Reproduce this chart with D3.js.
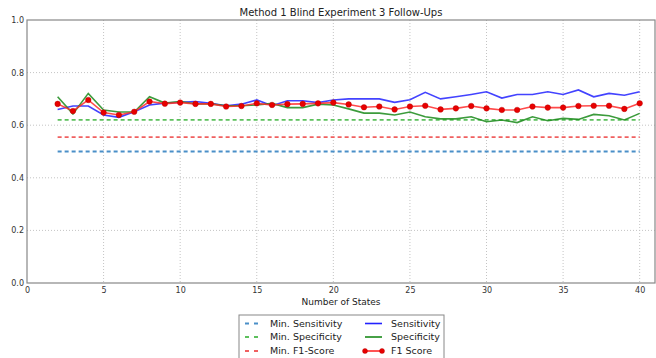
<!DOCTYPE html>
<html>
<head>
<meta charset="utf-8">
<script src="https://cdn.jsdelivr.net/npm/d3@7"></script>
<style>
  body { margin: 0; background: #fff; }
  svg { display: block; font-family: "DejaVu Sans", sans-serif; }
</style>
</head>
<body>
<svg id="chart" width="656" height="358"></svg>
<script>
const states = [2, 3, 4, 5, 6, 7, 8, 9, 10, 11, 12, 13, 14, 15, 16, 17, 18, 19, 20, 21,
  22, 23, 24, 25, 26, 27, 28, 29, 30, 31, 32, 33, 34, 35, 36, 37, 38, 39, 40]

const sensitivity = [0.660, 0.673, 0.673, 0.639, 0.630, 0.651, 0.677, 0.684, 0.687, 0.690,
  0.683, 0.674, 0.680, 0.696, 0.674, 0.693, 0.693, 0.686, 0.696, 0.700,
  0.700, 0.700, 0.687, 0.697, 0.725, 0.700, 0.708, 0.717, 0.727, 0.703,
  0.717, 0.717, 0.727, 0.717, 0.734, 0.708, 0.721, 0.714, 0.727]

const specificity = [0.708, 0.643, 0.721, 0.658, 0.650, 0.650, 0.708, 0.684, 0.690, 0.681,
  0.681, 0.674, 0.674, 0.677, 0.683, 0.667, 0.667, 0.680, 0.677, 0.662,
  0.646, 0.646, 0.639, 0.650, 0.632, 0.624, 0.624, 0.632, 0.613, 0.620,
  0.610, 0.632, 0.617, 0.626, 0.622, 0.641, 0.636, 0.620, 0.645]

const f1Score = [0.681, 0.654, 0.696, 0.648, 0.639, 0.651, 0.690, 0.682, 0.686, 0.681,
  0.681, 0.671, 0.673, 0.683, 0.677, 0.680, 0.681, 0.683, 0.686, 0.679,
  0.668, 0.671, 0.660, 0.671, 0.674, 0.660, 0.664, 0.673, 0.664, 0.658,
  0.658, 0.671, 0.667, 0.667, 0.673, 0.674, 0.674, 0.662, 0.683]

const minSensitivity = 0.5
const minSpecificity = 0.62
const minF1 = 0.555

const xTicks = [0, 5, 10, 15, 20, 25, 30, 35, 40]
const yTicks = [0.0, 0.2, 0.4, 0.6, 0.8, 1.0]

const width = 656
const height = 358
const margin = { top: 20, right: 1, bottom: 75, left: 27 }
const innerW = width - margin.left - margin.right
const innerH = height - margin.top - margin.bottom

const svg = d3.select('#chart')
const root = svg.append('g').attr('transform', `translate(${margin.left},${margin.top})`)

const x = d3.scaleLinear().domain([0, 41]).range([0, innerW])
const y = d3.scaleLinear().domain([0, 1]).range([innerH, 0])

// dotted grid
root.append('g')
  .selectAll('line')
  .data(xTicks.filter(t => t > 0))
  .join('line')
  .attr('x1', d => x(d)).attr('x2', d => x(d))
  .attr('y1', 0).attr('y2', innerH)
  .attr('stroke', '#c4c4c4').attr('stroke-width', 1).attr('stroke-dasharray', '1,2')

root.append('g')
  .selectAll('line')
  .data(yTicks.filter(t => t > 0 && t < 1))
  .join('line')
  .attr('x1', 0).attr('x2', innerW)
  .attr('y1', d => y(d)).attr('y2', d => y(d))
  .attr('stroke', '#c4c4c4').attr('stroke-width', 1).attr('stroke-dasharray', '1,2')

// tick labels only
root.append('g')
  .attr('transform', `translate(0,${innerH})`)
  .call(d3.axisBottom(x).tickValues(xTicks).tickFormat(d3.format('d')).tickSize(0).tickPadding(4))
root.append('g')
  .call(d3.axisLeft(y).tickValues(yTicks).tickFormat(d3.format('.1f')).tickSize(0).tickPadding(3))

root.selectAll('.domain').remove()
root.selectAll('.tick line').remove()
root.selectAll('.tick text').attr('fill', '#333').attr('font-size', '8px').attr('font-family', 'DejaVu Sans')

// frame
root.append('rect')
  .attr('x', 0).attr('y', 0).attr('width', innerW).attr('height', innerH)
  .attr('fill', 'none').attr('stroke', '#888').attr('stroke-width', 1.2)

// title and axis label
root.append('text')
  .attr('x', innerW / 2).attr('y', -4)
  .attr('text-anchor', 'middle').attr('font-size', '10px').attr('fill', '#222')
  .text('Method 1 Blind Experiment 3 Follow-Ups')

root.append('text')
  .attr('x', innerW / 2).attr('y', innerH + 22)
  .attr('text-anchor', 'middle').attr('font-size', '9px').attr('fill', '#222')
  .text('Number of States')

// threshold lines
const thresholds = [
  { value: minSensitivity, color: '#4a8fc8' },
  { value: minSpecificity, color: '#5cc05c' },
  { value: minF1, color: '#f06060' }
]
thresholds.forEach(t => {
  root.append('line')
    .attr('x1', x(states[0])).attr('x2', x(states[states.length - 1]))
    .attr('y1', y(t.value)).attr('y2', y(t.value))
    .attr('stroke', t.color).attr('stroke-width', 1.8).attr('stroke-dasharray', '4,3')
})

const line = d3.line().x(d => x(d[0])).y(d => y(d[1]))

const series = [
  { values: sensitivity, color: '#2222ff' },
  { values: specificity, color: '#1a8a1a' },
  { values: f1Score, color: '#ff2a2a' }
]
series.forEach(s => {
  root.append('path')
    .datum(states.map((st, i) => [st, s.values[i]]))
    .attr('fill', 'none')
    .attr('stroke', s.color)
    .attr('stroke-width', 1.6)
    .attr('opacity', 0.85)
    .attr('d', line)
})

root.append('g')
  .selectAll('circle')
  .data(states.map((st, i) => [st, f1Score[i]]))
  .join('circle')
  .attr('cx', d => x(d[0])).attr('cy', d => y(d[1]))
  .attr('r', 2.8)
  .attr('fill', '#e80000').attr('stroke', '#b00000').attr('stroke-width', 0.4)

// legend
const legend = svg.append('g').attr('transform', 'translate(239,315)')
legend.append('rect')
  .attr('x', 0).attr('y', 0).attr('width', 205).attr('height', 60)
  .attr('fill', '#fff').attr('stroke', '#888').attr('stroke-width', 1)

const legendLeft = [
  { label: 'Min. Sensitivity', color: '#4a8fc8' },
  { label: 'Min. Specificity', color: '#5cc05c' },
  { label: 'Min. F1-Score', color: '#f06060' }
]
const legendRight = [
  { label: 'Sensitivity', color: '#2222ff', marker: false },
  { label: 'Specificity', color: '#1a8a1a', marker: false },
  { label: 'F1 Score', color: '#ff2a2a', marker: true }
]
const rowY = [8.5, 22, 36]

legendLeft.forEach((d, i) => {
  legend.append('line')
    .attr('x1', 6).attr('x2', 19).attr('y1', rowY[i]).attr('y2', rowY[i])
    .attr('stroke', d.color).attr('stroke-width', 1.8).attr('stroke-dasharray', '4,5')
  legend.append('text')
    .attr('x', 31).attr('y', rowY[i]).attr('dy', '0.35em')
    .attr('font-size', '9.5px').attr('fill', '#222')
    .text(d.label)
})
legendRight.forEach((d, i) => {
  legend.append('line')
    .attr('x1', 126).attr('x2', 143).attr('y1', rowY[i]).attr('y2', rowY[i])
    .attr('stroke', d.color).attr('stroke-width', 1.6)
  if (d.marker) {
    [126, 143].forEach(cx => {
      legend.append('circle').attr('cx', cx).attr('cy', rowY[i]).attr('r', 2.5)
        .attr('fill', '#e80000').attr('stroke', '#b00000').attr('stroke-width', 0.4)
    })
  }
  legend.append('text')
    .attr('x', 152).attr('y', rowY[i]).attr('dy', '0.35em')
    .attr('font-size', '9.5px').attr('fill', '#222')
    .text(d.label)
})
</script>
</body>
</html>
